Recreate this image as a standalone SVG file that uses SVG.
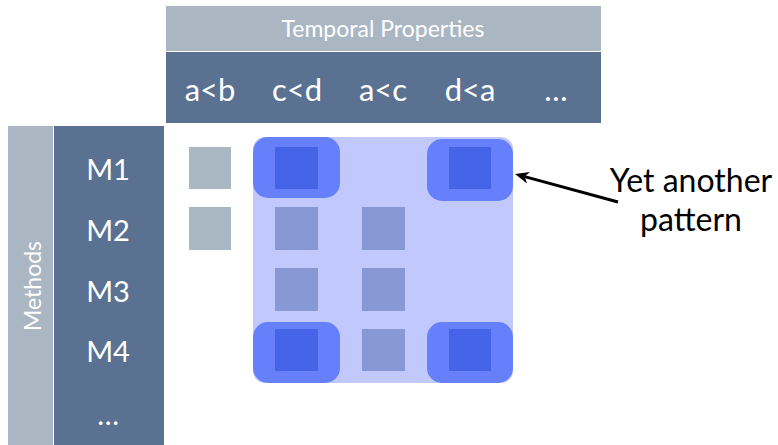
<svg xmlns="http://www.w3.org/2000/svg" width="778" height="445" viewBox="0 0 778 445">
  <style>
    .lbl { font-family: "Lato", "Open Sans", "Liberation Sans", sans-serif; fill: #ffffff; text-anchor: middle; }
    .hdr { font-size: 23px; }
    .col { font-size: 31px; }
    .row { font-size: 29px; }
    .note { font-family: "Lato", "Open Sans", "Liberation Sans", sans-serif; font-size: 32px; fill: #000000; text-anchor: middle; }
    .light { fill: #aab6c2; }
    .dark { fill: #5a7191; }
    .gray { fill: #aab8c4; }
    .mid { fill: #8898d4; }
    .hi { fill: #6680fc; }
    .core { fill: #4664e8; }
  </style>
  <defs>
    <!-- barbed arrowhead, tip at x=14; refX=4 leaves the line end 10px behind the tip -->
    <marker id="arrowhead" viewBox="0 0 14 14" refX="4" refY="7" markerWidth="14" markerHeight="14" markerUnits="userSpaceOnUse" orient="auto">
      <path d="M0,1 L14,7 L0,13 L4,7 Z" fill="#000"/>
    </marker>
  </defs>
  <rect width="778" height="445" fill="#ffffff"/>

  <!-- column header -->
  <g id="temporal-properties">
    <rect class="light" x="166" y="6" width="435" height="45"/>
    <text class="lbl hdr" x="383" y="37">Temporal Properties</text>
  </g>
  <g id="property-columns">
    <rect class="dark" x="166" y="52" width="435" height="71"/>
    <text class="lbl col" x="210" y="101">a&lt;b</text>
    <text class="lbl col" x="297" y="101">c&lt;d</text>
    <text class="lbl col" x="383" y="101">a&lt;c</text>
    <text class="lbl col" x="470" y="101">d&lt;a</text>
    <text class="lbl col" x="556" y="101">…</text>
  </g>

  <!-- row header -->
  <g id="methods">
    <rect class="light" x="8" y="126" width="45" height="319"/>
    <text class="lbl hdr" transform="translate(41,286) rotate(-90)">Methods</text>
  </g>
  <g id="method-rows">
    <rect class="dark" x="54" y="126" width="110" height="319"/>
    <text class="lbl row" x="108" y="180">M1</text>
    <text class="lbl row" x="108" y="241">M2</text>
    <text class="lbl row" x="108" y="302">M3</text>
    <text class="lbl row" x="108" y="362">M4</text>
    <text class="lbl row" x="108" y="425">…</text>
  </g>

  <!-- first column cells -->
  <g id="cells-a-lt-b">
    <rect class="gray" x="189" y="147" width="42" height="42"/>
    <rect class="gray" x="189" y="207" width="42" height="43"/>
  </g>

  <!-- pattern region -->
  <g id="pattern">
    <rect x="253" y="137" width="260" height="246" rx="12" fill="#c0c8fc"/>
    <rect class="hi" x="253" y="137" width="87" height="61" rx="15"/>
    <rect class="hi" x="427" y="139" width="86" height="62" rx="15"/>
    <rect class="hi" x="253" y="322" width="87" height="61" rx="15"/>
    <rect class="hi" x="427" y="322" width="86" height="61" rx="15"/>
    <rect class="core" x="275" y="147" width="43" height="42"/>
    <rect class="core" x="449" y="147" width="42" height="42"/>
    <rect class="core" x="275" y="329" width="43" height="42"/>
    <rect class="core" x="449" y="329" width="42" height="42"/>
    <rect class="mid" x="275" y="207" width="43" height="43"/>
    <rect class="mid" x="362" y="207" width="43" height="43"/>
    <rect class="mid" x="275" y="268" width="43" height="43"/>
    <rect class="mid" x="362" y="268" width="43" height="43"/>
    <rect class="mid" x="362" y="329" width="43" height="42"/>
  </g>

  <!-- annotation -->
  <g id="note">
    <text class="note" x="691" y="192">Yet another</text>
    <text class="note" x="691" y="231">pattern</text>
  </g>

  <g id="connectors">
    <line x1="618" y1="202" x2="524.7" y2="176.6" stroke="#000" stroke-width="3" marker-end="url(#arrowhead)"/>
  </g>
</svg>
